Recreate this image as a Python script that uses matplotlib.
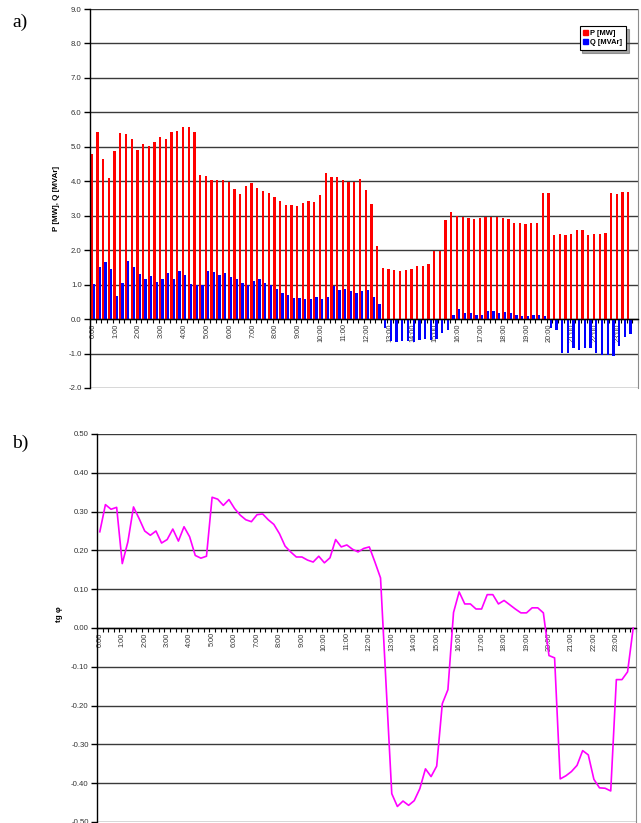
import numpy as np
import matplotlib
matplotlib.use("Agg")
import matplotlib.pyplot as plt
from matplotlib.patches import Patch

plt.rcParams['font.family'] = ['Liberation Sans', 'DejaVu Sans']

hours = [f"{h}:00" for h in range(24)]

P = [4.79, 5.44, 4.64, 4.09, 4.88, 5.41, 5.38, 5.24, 4.91, 5.08, 5.03, 5.14,
     5.29, 5.24, 5.44, 5.47, 5.58, 5.58, 5.44, 4.19, 4.16, 4.03, 4.05, 4.05,
     3.98, 3.79, 3.63, 3.86, 3.96, 3.81, 3.72, 3.66, 3.53, 3.43, 3.30, 3.30,
     3.27, 3.37, 3.43, 3.39, 3.60, 4.23, 4.13, 4.13, 4.03, 3.99, 3.99, 4.06,
     3.76, 3.34, 2.11, 1.49, 1.45, 1.42, 1.39, 1.42, 1.45, 1.55, 1.55, 1.59,
     1.99, 1.99, 2.87, 3.10, 3.00, 2.96, 2.93, 2.91, 2.93, 2.97, 2.97, 2.97,
     2.93, 2.90, 2.80, 2.80, 2.77, 2.80, 2.80, 3.67, 3.67, 2.44, 2.47, 2.44,
     2.47, 2.58, 2.58, 2.44, 2.47, 2.47, 2.50, 3.67, 3.63, 3.69, 3.69, 0.0]

Q = [1.02, 1.52, 1.65, 1.45, 0.68, 1.05, 1.69, 1.52, 1.32, 1.16, 1.26, 1.08,
     1.16, 1.33, 1.16, 1.40, 1.27, 1.02, 0.99, 0.99, 1.40, 1.37, 1.27, 1.33,
     1.23, 1.16, 1.05, 0.99, 1.12, 1.16, 1.05, 0.99, 0.88, 0.75, 0.69, 0.62,
     0.62, 0.58, 0.57, 0.64, 0.57, 0.65, 0.96, 0.85, 0.88, 0.82, 0.77, 0.82,
     0.85, 0.65, 0.44, -0.27, -0.63, -0.67, -0.65, -0.65, -0.67, -0.62, -0.58, -0.60,
     -0.59, -0.39, -0.33, 0.11, 0.29, 0.17, 0.17, 0.13, 0.13, 0.24, 0.24, 0.17,
     0.20, 0.17, 0.13, 0.10, 0.10, 0.13, 0.13, 0.10, -0.27, -0.31, -0.97, -0.97,
     -0.84, -0.91, -0.84, -0.84, -0.97, -1.03, -1.03, -1.08, -0.79, -0.52, -0.44, 0.0]

TG = [0.248, 0.318, 0.306, 0.311, 0.166, 0.222, 0.312, 0.282, 0.250, 0.239, 0.250, 0.219,
      0.228, 0.255, 0.224, 0.261, 0.235, 0.187, 0.180, 0.185, 0.337, 0.332, 0.316, 0.331,
      0.308, 0.291, 0.279, 0.274, 0.292, 0.294, 0.279, 0.267, 0.243, 0.211, 0.196, 0.183,
      0.183, 0.175, 0.170, 0.185, 0.168, 0.181, 0.228, 0.209, 0.214, 0.203, 0.196, 0.205,
      0.209, 0.170, 0.129, -0.150, -0.427, -0.460, -0.446, -0.457, -0.445, -0.414, -0.363, -0.383,
      -0.356, -0.195, -0.159, 0.040, 0.093, 0.062, 0.062, 0.049, 0.049, 0.086, 0.086, 0.062,
      0.071, 0.060, 0.049, 0.039, 0.039, 0.052, 0.052, 0.039, -0.071, -0.077, -0.389, -0.381,
      -0.370, -0.354, -0.316, -0.327, -0.390, -0.412, -0.413, -0.420, -0.133, -0.133, -0.113, 0.0]

n = len(P)
x = np.arange(n)

W, H = 641, 823
fig = plt.figure(figsize=(W / 100, H / 100), dpi=100)

grid_col = '#3a3a3a'
tick_fs = 5.6
lab_col = '#333333'


def style_axis(ax, ymin, ymax, step, fmt):
    ax.set_xlim(-0.5, n - 0.5)
    ax.set_ylim(ymin, ymax)
    yt = np.round(np.arange(ymin, ymax + step / 2, step), 3)
    yt = np.where(np.abs(yt) < 1e-9, 0.0, yt)
    ax.set_yticks(yt)
    ax.set_yticklabels([fmt.format(v + 0.0) for v in yt], fontsize=tick_fs, color=lab_col)
    ax.yaxis.grid(True, color=grid_col, linewidth=1.0)
    ax.set_axisbelow(True)
    ax.spines['bottom'].set_position(('data', 0))
    ax.spines['top'].set_visible(False)
    ax.spines['right'].set_color('#8c8c8c')
    ax.spines['left'].set_color('black')
    ax.spines['bottom'].set_color('black')
    ax.spines['left'].set_linewidth(1.0)
    ax.spines['bottom'].set_linewidth(1.0)
    ax.tick_params(axis='y', direction='out', length=4, width=1.0, pad=2)
    ax.set_xticks(x[::4])
    ax.set_xticklabels(hours, rotation=90, fontsize=5.3, color=lab_col)
    ax.set_xticks(np.arange(-0.5, n, 1.0), minor=True)
    ax.tick_params(axis='x', which='major', length=0, pad=3)
    ax.tick_params(axis='x', which='minor', direction='out', length=3, width=0.8)


# ---- top chart ----
ax1 = fig.add_axes([90 / W, 1 - 388 / H, 548 / W, 379 / H])
ax1.bar(x - 0.2, P, width=0.4, color='#ff0000', label='P [MW]', zorder=2)
ax1.bar(x + 0.2, Q, width=0.4, color='#0000ff', label='Q [MVAr]', zorder=2)
style_axis(ax1, -2.0, 9.0, 1.0, "{:.1f}")
ax1.set_ylabel('P [MW], Q [MVAr]', fontsize=5.8, fontweight='bold')
ax1.yaxis.set_label_coords(-0.055, 0.5)
handles = [Patch(color='#ff0000', label='P [MW]'), Patch(color='#0000ff', label='Q [MVAr]')]
leg = ax1.legend(handles=handles, loc='upper right', bbox_to_anchor=(0.978, 0.955),
                 prop={'size': 5.4, 'weight': 'bold'}, frameon=True, fancybox=False,
                 shadow=True, handlelength=0.6, handleheight=0.6, handletextpad=0.3,
                 borderpad=0.5, labelspacing=0.3, borderaxespad=0)
leg.get_frame().set_edgecolor('black')
leg.get_frame().set_linewidth(0.8)

# ---- bottom chart ----
ax2 = fig.add_axes([97 / W, 1 - 822 / H, 539 / W, 388 / H])
ax2.plot(x, TG, color='#ff00ff', linewidth=1.2, zorder=3)
style_axis(ax2, -0.5, 0.5, 0.1, "{:.2f}")
ax2.set_ylabel('tg φ', fontsize=5.8, fontweight='bold')
ax2.yaxis.set_label_coords(-0.063, 0.535)

fig.text(12 / W, 1 - 22 / H, 'a)', fontsize=14, family=['Liberation Serif'], va='center', ha='left')
fig.text(12 / W, 1 - 443 / H, 'b)', fontsize=14, family=['Liberation Serif'], va='center', ha='left')

fig.savefig('out.png', dpi=100)
